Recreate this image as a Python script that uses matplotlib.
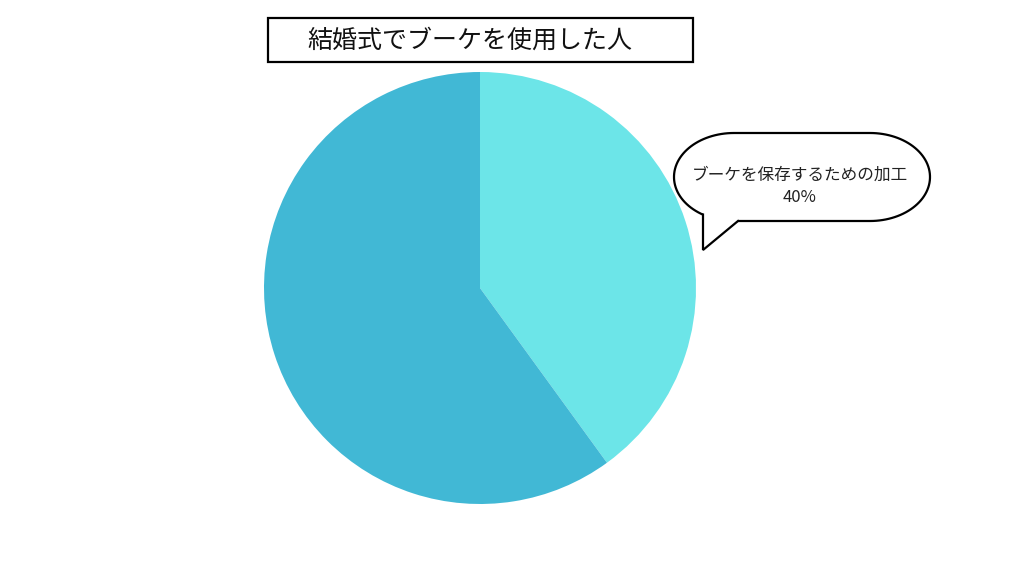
import numpy as np
import matplotlib.pyplot as plt
from matplotlib.patches import Rectangle, Polygon

plt.rcParams['font.family'] = ['Noto Sans CJK JP', 'DejaVu Sans']

# data
title = '結婚式でブーケを使用した人'
labels = ['ブーケを保存するための加工', 'その他']
values = [40, 60]
colors = ['#6CE5E8', '#41B8D5']

fig = plt.figure(figsize=(10.24, 5.76), dpi=100)
ax = fig.add_axes([0, 0, 1, 1])
ax.set_xlim(0, 1024)
ax.set_ylim(576, 0)
ax.axis('off')

# pie in its own axes (y up) so clockwise direction stays correct
pax = fig.add_axes([0, 0, 1, 1])
pax.set_xlim(0, 1024)
pax.set_ylim(0, 576)
pax.axis('off')
pax.pie(values, colors=colors, startangle=90, counterclock=False,
        center=(480, 288), radius=216, frame=True)
pax.set_xlim(0, 1024)
pax.set_ylim(0, 576)
pax.axis('off')

# title box
ax.add_patch(Rectangle((268, 18), 425, 44, fill=False, edgecolor='black', lw=1.6, zorder=5))
ax.text(470, 41, title, ha='center', va='center', fontsize=18, color='#111111', zorder=6)

# speech bubble
left, right, top, bottom = 674, 930, 133, 221
rx, ry = 60, (bottom - top) / 2
cy = (top + bottom) / 2
t1 = np.linspace(-np.pi / 2, np.pi / 2, 60)
t2 = np.linspace(np.pi / 2, 3 * np.pi / 2, 60)
rpts = np.column_stack([right - rx + rx * np.cos(t1), cy - ry * np.sin(t1)])
lpts = np.column_stack([left + rx + rx * np.cos(t2), cy - ry * np.sin(t2)])
bubble = np.vstack([rpts, lpts])
ax.add_patch(Polygon(bubble, closed=True, facecolor='white', edgecolor='black', lw=1.6, zorder=3))
ax.add_patch(Polygon([(703, 205), (703, 250), (738, 221), (738, 205)], closed=True,
                     facecolor='white', edgecolor='none', zorder=4))
ax.plot([703, 703, 738], [214.5, 250, 221], color='black', lw=1.6, zorder=5,
        solid_joinstyle='miter')
ax.text(800, 186, f'{labels[0]}\n{values[0]}%', ha='center', va='center',
        fontsize=12, linespacing=1.4, color='#222222', zorder=6)

fig.savefig('out.png', dpi=100, facecolor='white')
